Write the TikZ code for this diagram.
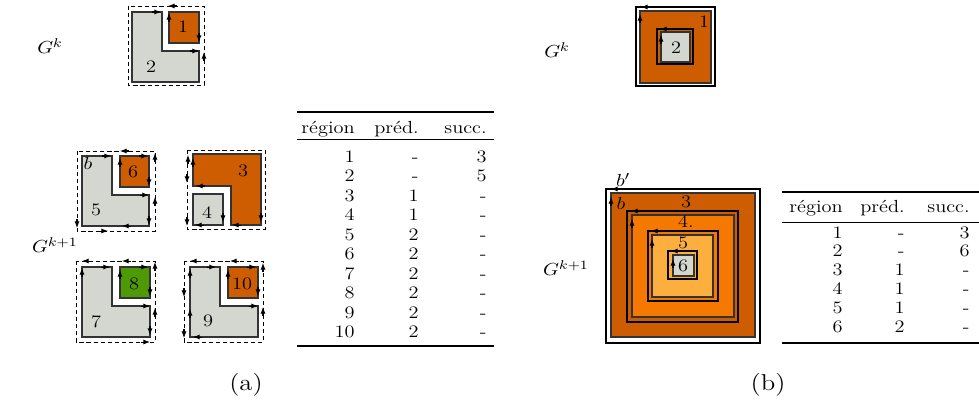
\documentclass[tikz,border=0pt]{standalone}
\usepackage{fontspec}
\usepackage{graphicx}
\usetikzlibrary{arrows.meta}
\definecolor{gr}{HTML}{D3D7CF}
\definecolor{orD}{HTML}{CE5C00}
\definecolor{orM}{HTML}{F57900}
\definecolor{orL}{HTML}{FCAF3E}
\definecolor{grn}{HTML}{4E9A06}
\newcommand\sq[1]{\scalebox{1}[0.86]{#1}}
\newcommand\tipR[2]{\draw[tip] (#1-9,#2) -- (#1,#2);}
\newcommand\tipL[2]{\draw[tip] (#1+9,#2) -- (#1,#2);}
\newcommand\tipU[2]{\draw[tip] (#1,#2+9) -- (#1,#2);}
\newcommand\tipD[2]{\draw[tip] (#1,#2-9) -- (#1,#2);}
\tikzset{
  reg/.style={draw=black!80, line width=0.7pt},
  hole/.style={draw=black, line width=0.7pt},
  dbox/.style={draw=black, line width=0.5pt, dash pattern=on 2.2pt off 1.6pt},
  tip/.style={-{Latex[length=3.6pt,width=2.8pt]}, line width=0.55pt},
  lbl/.style={inner sep=0pt},
  cell/.style={inner sep=0pt, anchor=base east},
  toprule/.style={line width=0.8pt},
  midrule/.style={line width=0.5pt}
}
\begin{document}
\begin{tikzpicture}[x=0.54pt,y=-0.54pt, every node/.style={font=\fontsize{11}{13.5}\selectfont}]
\path[fill=white] (0,0) rectangle (979,412);
\useasboundingbox (0,0) rectangle (979,412);

% ================= (a) =================
\node[lbl] (gka) at (50,46) {\sq{$G^k$}};
\node[lbl] (gk1a) at (55,245) {\sq{$G^{k+1}$}};
\node[lbl, font=\fontsize{14.4}{17}\selectfont] (capa) at (246,385) {\sq{(a)}};

% G^k
\draw[dbox] (128,6) rectangle (204,85);
\filldraw[fill=gr, reg] (132,12) -- (162,12) -- (162,51) -- (199,51) -- (199,82) -- (132,82) -- cycle;
\filldraw[fill=orD, reg] (169,12) rectangle (199,43);
\tipR{161}{12} \tipR{199}{51} \tipU{169}{13} \tipD{199}{42} \tipL{168}{6} \tipU{204}{52}
\node[lbl] (r1) at (183,27) {\sq{1}};
\node[lbl] (r2) at (151,67) {\sq{2}};

% fig 5/6
\draw[dbox] (77,151) rectangle (155,231);
\filldraw[fill=gr, reg] (82,156) -- (112,156) -- (112,195) -- (149,195) -- (149,226) -- (82,226) -- cycle;
\filldraw[fill=orD, reg] (120,156) rectangle (149,187);
\tipR{111}{156} \tipR{149}{195} \tipD{149}{225} \tipL{122}{226}
\tipU{120}{158} \tipR{148}{156} \tipD{149}{186}
\tipL{120}{151} \tipU{155}{153} \tipU{155}{197} \tipD{77}{228} \tipR{108}{231}
\node[lbl] (lb) at (88,163) {\sq{$b$}};
\node[lbl] (r6) at (133,172) {\sq{6}};
\node[lbl] (r5) at (96,210) {\sq{5}};

% fig 3/4
\draw[dbox] (187,150) rectangle (265,229);
\filldraw[fill=orD, reg] (193,154) -- (261,154) -- (261,225) -- (231,225) -- (231,186) -- (193,186) -- cycle;
\filldraw[fill=gr, reg] (193,194) rectangle (223,225);
\tipU{188}{155} \tipD{187}{183} \tipD{187}{226}
\tipU{193}{158} \tipL{196}{186} \tipD{261}{222} \tipL{232}{225}
\tipD{223}{222} \tipL{195}{225}
\node[lbl] (r3) at (243,171) {\sq{3}};
\node[lbl] (r4) at (207,213) {\sq{4}};

% fig 7/8
\draw[dbox] (76,261) rectangle (155,342);
\filldraw[fill=gr, reg] (82,267) -- (112,267) -- (112,306) -- (150,306) -- (150,337) -- (82,337) -- cycle;
\filldraw[fill=grn, reg] (120,267) rectangle (150,298);
\tipL{82}{261} \tipL{122}{261} \tipU{155}{262} \tipU{155}{308} \tipR{150}{342}
\tipU{82}{268} \tipR{110}{267} \tipR{150}{306} \tipD{150}{335}
\tipU{120}{270} \tipR{148}{267} \tipD{150}{296}
\node[lbl] (r8) at (134,284) {\sq{8}};
\node[lbl] (r7) at (96,322) {\sq{7}};

% fig 9/10
\draw[dbox] (184,261) rectangle (263,342);
\filldraw[fill=gr, reg] (190,267) -- (220,267) -- (220,306) -- (258,306) -- (258,337) -- (190,337) -- cycle;
\filldraw[fill=orD, reg] (228,267) rectangle (258,298);
\tipL{190}{261} \tipD{184}{297} \tipD{184}{338} \tipL{230}{261} \tipU{263}{307} \tipU{263}{263}
\tipU{190}{269} \tipU{190}{309} \tipR{216}{267} \tipR{258}{306} \tipL{193}{337}
\tipU{228}{270} \tipR{256}{267} \tipD{258}{296}
\node[lbl] (r10) at (242,284) {\sq{10}};
\node[lbl] (r9) at (208,321) {\sq{9}};

% table (a)
\draw[toprule] (297,112) -- (494,112);
\draw[midrule] (297,139) -- (494,139);
\draw[toprule] (297,346) -- (494,346);
\node[cell] (ha1) at (355,133) {\sq{région}};
\node[cell] (ha2) at (419,133) {\sq{préd.}};
\node[cell] (ha3) at (487,133) {\sq{succ.}};
\foreach \r/\p/\s [count=\i] in {1/-/3, 2/-/5, 3/1/-, 4/1/-, 5/2/-, 6/2/-, 7/2/-, 8/2/-, 9/2/-, 10/2/-}{
  \pgfmathsetmacro\yy{157+19.55*(\i-1)+5}
  \node[cell] (ta\i a) at (355,\yy) {\sq{\r}};
  \node[cell] (ta\i b) at (419,\yy) {\sq{\p}};
  \node[cell] (ta\i c) at (487,\yy) {\sq{\s}};
}

% ================= (b) =================
\node[lbl] (gkb) at (557,50) {\sq{$G^k$}};
\node[lbl] (gk1b) at (566,268) {\sq{$G^{k+1}$}};
\node[lbl, font=\fontsize{14.4}{17}\selectfont] (capb) at (768,385) {\sq{(b)}};

% G^k (b)
\draw[line width=0.6pt] (636,7) rectangle (715,86);
\filldraw[fill=orD, reg] (640,11) rectangle (711,83);
\draw[hole] (657,29) rectangle (693,64);
\filldraw[fill=gr, reg] (661,32) rectangle (690,62);
\tipL{641}{7} \tipU{640}{14} \tipL{660}{29} \tipU{661}{35}
\node[lbl] (b1) at (704,22) {\sq{1}};
\node[lbl] (b2) at (676,48) {\sq{2}};

% G^{k+1} (b)
\draw[line width=0.6pt] (606,189) rectangle (760,343);
\filldraw[fill=orD, reg] (611,193) rectangle (755,337);
\draw[hole] (627,211) rectangle (738,322);
\filldraw[fill=orM, reg] (632,215) rectangle (734,317);
\draw[hole] (648,231) rectangle (718,301);
\filldraw[fill=orL, reg] (652,235) rectangle (713,297);
\draw[hole] (668,251) rectangle (697,279);
\filldraw[fill=gr, reg] (673,255) rectangle (694,276);
\tipL{611}{189} \tipU{611}{197} \tipL{631}{211} \tipU{632}{219}
\tipL{651}{231} \tipU{652}{239} \tipL{671}{251} \tipU{673}{259}
\node[lbl] (bbp) at (623,180) {\sq{$b'$}};
\node[lbl] (bb) at (621,203) {\sq{$b$}};
\node[lbl] (b3) at (686,202) {\sq{3}};
\node[lbl] (b4) at (686,222) {\sq{4.}};
\node[lbl] (b5) at (683,243) {\sq{5}};
\node[lbl] (b6) at (683,266) {\sq{6}};

% table (b)
\draw[toprule] (782,192) -- (979,192);
\draw[midrule] (782,222) -- (979,222);
\draw[toprule] (782,343) -- (979,343);
\node[cell] (hb1) at (843,212) {\sq{région}};
\node[cell] (hb2) at (905,212) {\sq{préd.}};
\node[cell] (hb3) at (970,212) {\sq{succ.}};
\foreach \r/\p/\s [count=\i] in {1/-/3, 2/-/6, 3/1/-, 4/1/-, 5/1/-, 6/2/-}{
  \pgfmathsetmacro\yy{233+18.8*(\i-1)+5}
  \node[cell] (tb\i a) at (843,\yy) {\sq{\r}};
  \node[cell] (tb\i b) at (905,\yy) {\sq{\p}};
  \node[cell] (tb\i c) at (970,\yy) {\sq{\s}};
}
\end{tikzpicture}
\end{document}
